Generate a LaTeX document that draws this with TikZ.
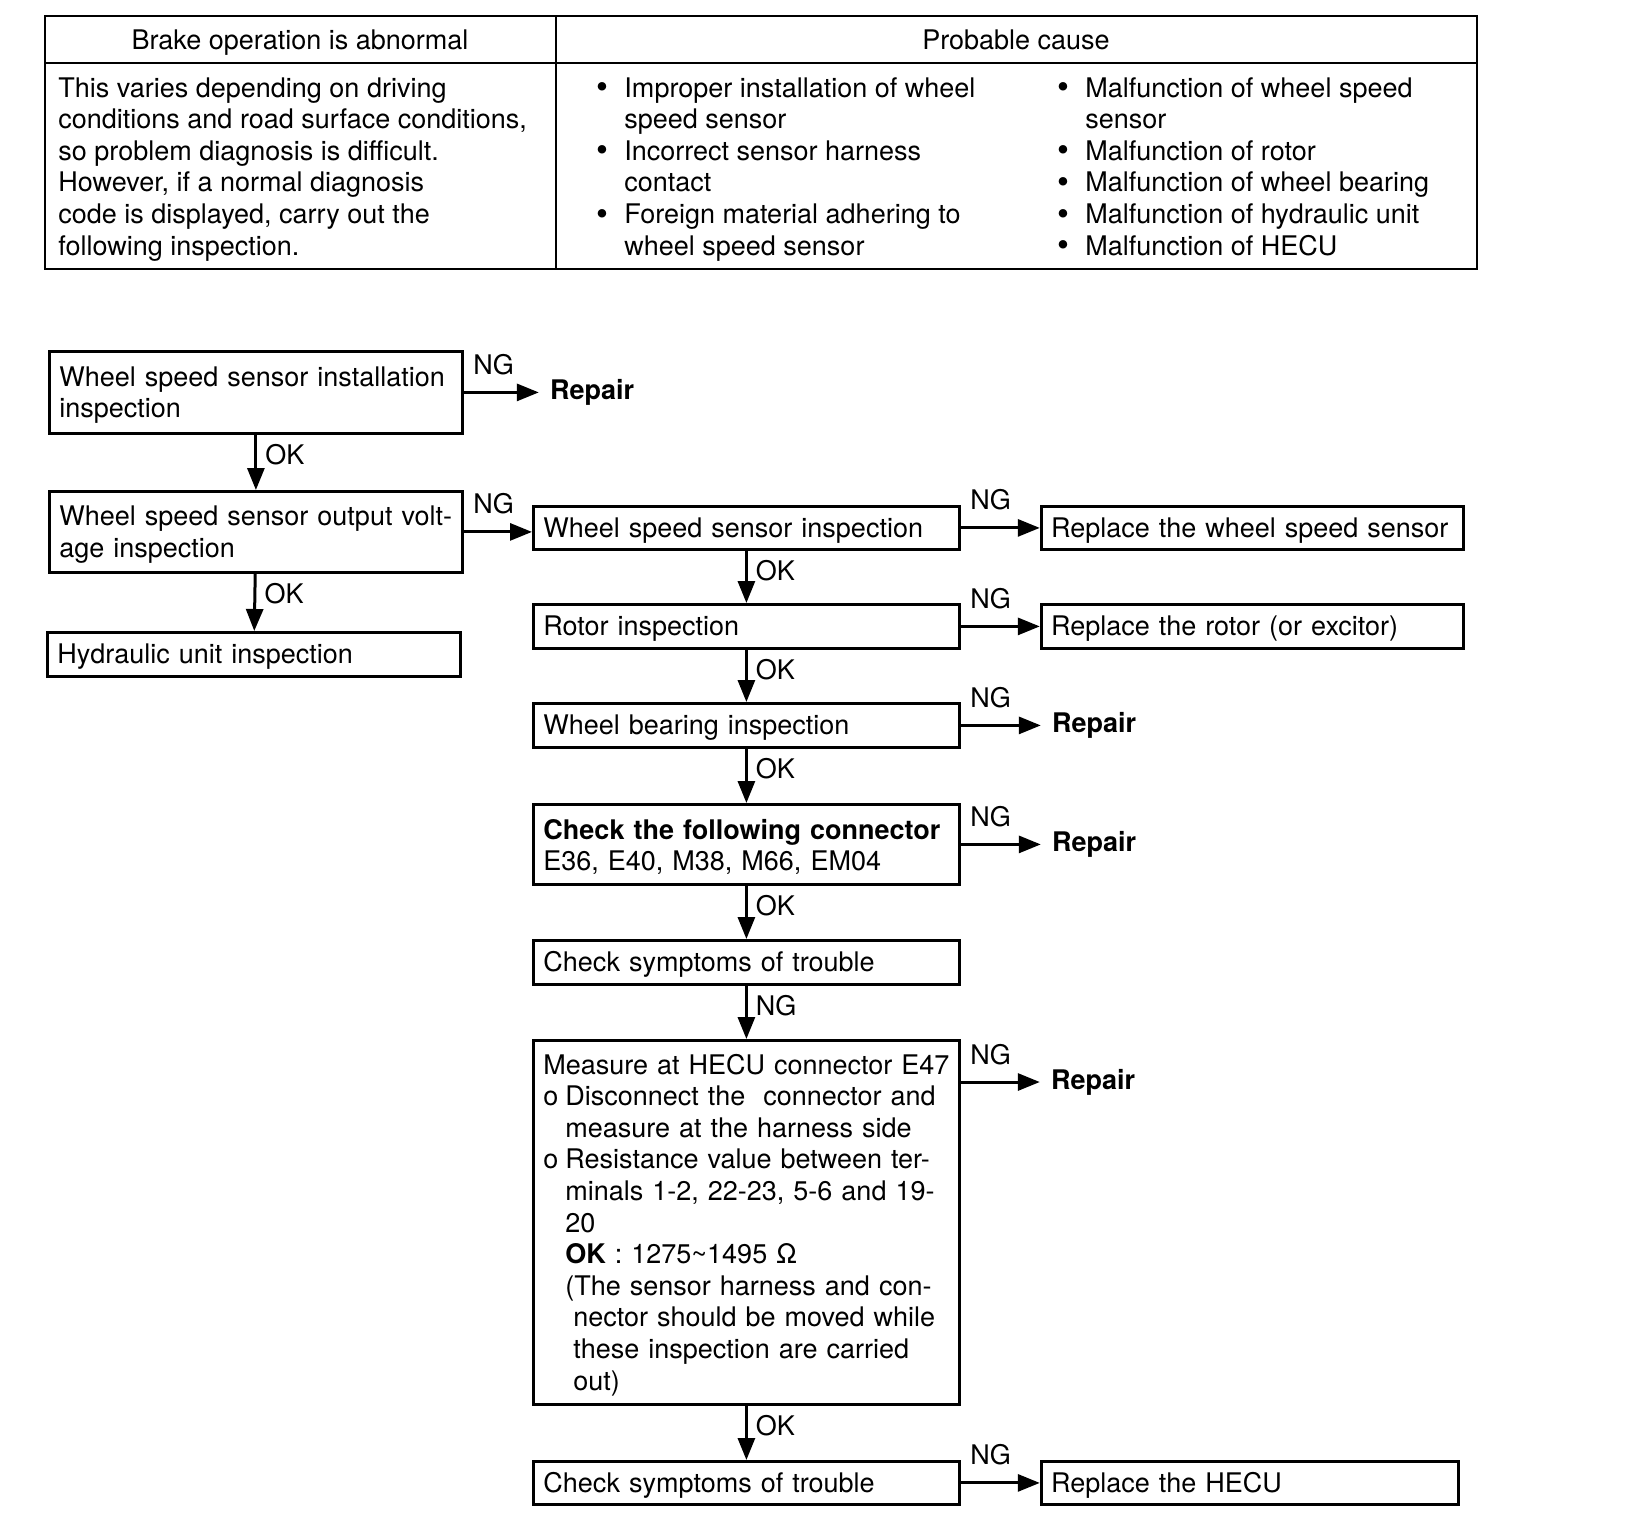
\documentclass[tikz,border=0pt]{standalone}
\usepackage{fontspec}
\setmainfont{TeX Gyre Heros}
\usetikzlibrary{arrows.meta}

\newcommand{\flowfont}{\fontsize{13.5pt}{15.8pt}\selectfont}
\newcommand{\causeitem}{\makebox[14pt][l]{\raisebox{-0.8pt}{\fontsize{17pt}{0pt}\selectfont\textbullet}}}
\newcommand{\causecont}{\hspace*{14pt}}

\tikzset{
  flowbox/.style={draw, line width=1.4pt, anchor=north west, inner xsep=5pt, inner ysep=0pt, align=left, text height=12.5pt, font=\flowfont},
  flow/.style={line width=1.5pt, -{Triangle[length=11pt,width=8.5pt]}},
  hlabel/.style={pos=0, anchor=south west, inner xsep=4pt, inner ysep=8pt, font=\flowfont},
  vlabel/.style={pos=0, anchor=north west, inner xsep=4pt, inner ysep=4pt, font=\flowfont},
  repair/.style={anchor=west, inner xsep=5.5pt, font=\flowfont\bfseries},
  tableline/.style={line width=1.4pt},
  celltext/.style={anchor=base west, inner sep=0pt, font=\flowfont}
}

\begin{document}
\begin{tikzpicture}[x=0.5pt,y=-0.5pt]
        \useasboundingbox (0,0) rectangle (1632,1538);

        % Table
        \draw[tableline] (45,16) rectangle (1477,269);
        \draw[tableline] (45,63) -- (1477,63);
        \draw[tableline] (556,16) -- (556,269);
        \node[font=\flowfont, anchor=base, inner sep=0pt] (headsymptom) at (300,49) {Brake operation is abnormal};
        \node[font=\flowfont, anchor=base, inner sep=0pt] (headcause) at (1016,49) {Probable cause};
        \node[celltext] (symptomtext) at (58,97) {\begin{tabular}[t]{@{}l@{}}
            This varies depending on driving\\
            conditions and road surface conditions,\\
            so problem diagnosis is difficult.\\
            However, if a normal diagnosis\\
            code is displayed, carry out the\\
            following inspection.\end{tabular}};
        \node[celltext] (causeA) at (596,97) {\begin{tabular}[t]{@{}l@{}}
            \causeitem Improper installation of wheel\\
            \causecont speed sensor\\
            \causeitem Incorrect sensor harness\\
            \causecont contact\\
            \causeitem Foreign material adhering to\\
            \causecont wheel speed sensor\end{tabular}};
        \node[celltext] (causeB) at (1057,97) {\begin{tabular}[t]{@{}l@{}}
            \causeitem Malfunction of wheel speed\\
            \causecont sensor\\
            \causeitem Malfunction of rotor\\
            \causeitem Malfunction of wheel bearing\\
            \causeitem Malfunction of hydraulic unit\\
            \causeitem Malfunction of HECU\end{tabular}};

        % Left column
        \node[flowbox, text width=196.5pt, minimum height=41pt] (install) at (48,350) {Wheel speed sensor installation\\inspection};
        \node[flowbox, text width=196.5pt, minimum height=40.5pt] (voltage) at (48,490) {Wheel speed sensor output volt-\\age inspection};
        \node[flowbox, text width=196.5pt, minimum height=22pt] (hydraulic) at (46,631) {Hydraulic unit inspection};
        \node[repair] (repairA) at ([xshift=37.5pt]install.east) {Repair};

        % Right column
        \node[flowbox, text width=203pt, minimum height=21.5pt] (sensorinsp) at (532,505) {Wheel speed sensor inspection};
        \node[flowbox, text width=203pt, minimum height=22pt] (rotor) at (532,603) {Rotor inspection};
        \node[flowbox, text width=203pt, minimum height=22pt] (bearing) at (532,702) {Wheel bearing inspection};
        \node[flowbox, text width=203pt, minimum height=40pt] (connector) at (532,803) {\textbf{Check the following connector}\\E36, E40, M38, M66, EM04};
        \node[flowbox, text width=203pt, minimum height=22pt] (symptomsA) at (532,939) {Check symptoms of trouble};
        \node[flowbox, text width=203pt, minimum height=182pt] (measure) at (532,1039) {\mbox{Measure at HECU connector E47}\\
            \makebox[11pt][l]{o}Disconnect the\ \ connector and\\
            \hspace*{11pt}measure at the harness side\\
            \makebox[11pt][l]{o}Resistance value between ter-\\
            \hspace*{11pt}minals 1-2, 22-23, 5-6 and 19-\\
            \hspace*{11pt}20\\
            \hspace*{11pt}\textbf{OK} : 1275\textasciitilde 1495 Ω\\
            \hspace*{11pt}(The sensor harness and con-\\
            \hspace*{15pt}nector should be moved while\\
            \hspace*{15pt}these inspection are carried\\
            \hspace*{15pt}out)};
        \node[flowbox, text width=203pt, minimum height=21.5pt] (symptomsB) at (532,1460) {Check symptoms of trouble};

        % Results
        \node[flowbox, anchor=west, text width=201pt, minimum height=21.5pt] (replsensor) at ([xshift=39.5pt]sensorinsp.east) {Replace the wheel speed sensor};
        \node[flowbox, anchor=west, text width=201pt, minimum height=22pt] (replrotor) at ([xshift=39.5pt]rotor.east) {Replace the rotor (or excitor)};
        \node[repair] (repairB) at ([xshift=40pt]bearing.east) {Repair};
        \node[repair] (repairC) at ([xshift=40pt]connector.east) {Repair};
        \node[repair] (repairD) at ([xshift=39.5pt,yshift=-21.5pt]measure.north east) {Repair};
        \node[flowbox, anchor=west, text width=198.5pt, minimum height=21.5pt] (replhecu) at ([xshift=39.5pt]symptomsB.east) {Replace the HECU};

        % Arrows
        \draw[flow] (install) -- node[vlabel]{OK} (voltage);
        \draw[flow] (voltage) -- node[vlabel]{OK} (hydraulic);
        \draw[flow] (install.east) -- node[hlabel]{NG} (repairA.west);
        \draw[flow] (voltage.east) -- node[hlabel]{NG} (voltage.east -| sensorinsp.west);
        \draw[flow] (sensorinsp.east) -- node[hlabel]{NG} (replsensor.west);
        \draw[flow] (sensorinsp) -- node[vlabel]{OK} (rotor);
        \draw[flow] (rotor.east) -- node[hlabel]{NG} (replrotor.west);
        \draw[flow] (rotor) -- node[vlabel]{OK} (bearing);
        \draw[flow] (bearing.east) -- node[hlabel]{NG} (repairB.west);
        \draw[flow] (bearing) -- node[vlabel]{OK} (connector);
        \draw[flow] (connector.east) -- node[hlabel]{NG} (repairC.west);
        \draw[flow] (connector) -- node[vlabel]{OK} (symptomsA);
        \draw[flow] (symptomsA) -- node[vlabel]{NG} (measure);
        \draw[flow] ([yshift=-21.5pt]measure.north east) -- node[hlabel]{NG} (repairD.west);
        \draw[flow] (measure) -- node[vlabel]{OK} (symptomsB);
        \draw[flow] (symptomsB.east) -- node[hlabel]{NG} (replhecu.west);
\end{tikzpicture}
\end{document}
